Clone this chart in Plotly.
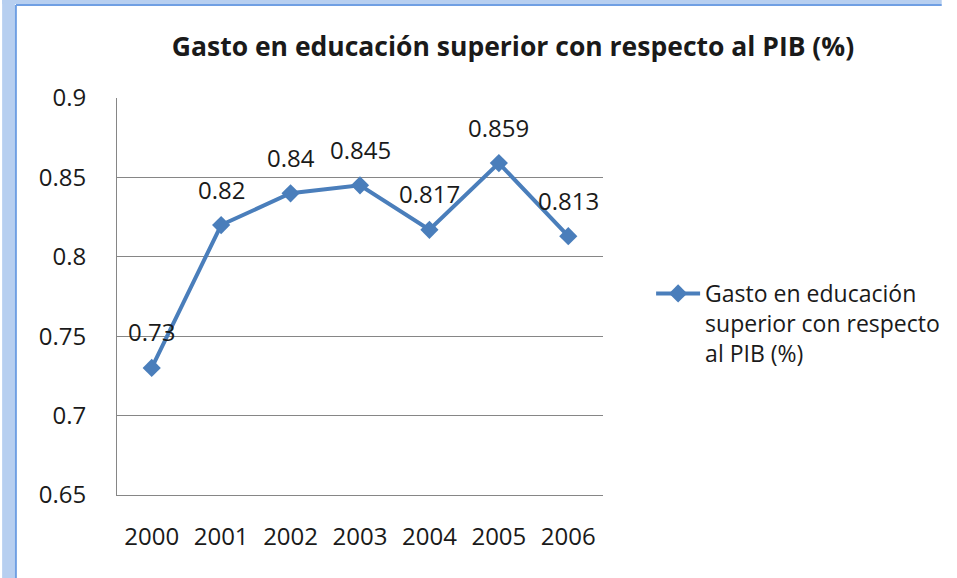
import plotly.graph_objects as go

years = ["2000", "2001", "2002", "2003", "2004", "2005", "2006"]
values = [0.73, 0.82, 0.84, 0.845, 0.817, 0.859, 0.813]
value_labels = ["0.73", "0.82", "0.84", "0.845", "0.817", "0.859", "0.813"]
y_ticks = [0.65, 0.7, 0.75, 0.8, 0.85, 0.9]
y_tick_labels = ["0.65", "0.7", "0.75", "0.8", "0.85", "0.9"]
series_name = "Gasto en educación<br>superior con respecto<br>al PIB (%)"
title_text = "Gasto en educación superior con respecto al PIB (%)"

FONT = "Open Sans"
TXT = "#1a1a1a"
LINE_COLOR = "#4A7EBB"

fig = go.Figure()
fig.add_trace(go.Scatter(
    x=years, y=values, mode="lines+markers", name=series_name,
    line=dict(color=LINE_COLOR, width=4),
    marker=dict(symbol="diamond", size=14, color=LINE_COLOR),
))

for i, (y, t) in enumerate(zip(values, value_labels)):
    fig.add_annotation(x=i, y=y, text=t, showarrow=False, yshift=36,
                       yanchor="middle",
                       font=dict(family=FONT, size=24, color=TXT))

W, H = 957, 578
L, R, T, B = 117, 612, 98, 495
pw, ph = R - L, B - T

def px(x):
    return (x - L) / pw

def py(y):
    return (B - y) / ph

# Excel-like frame border (left and top)
fig.add_shape(type="rect", xref="paper", yref="paper",
              x0=px(0), x1=px(13), y0=py(H), y1=py(0),
              fillcolor="#B7CFF0", line=dict(width=0), layer="below")
fig.add_shape(type="rect", xref="paper", yref="paper",
              x0=px(0), x1=px(W), y0=py(4), y1=py(0),
              fillcolor="#B7CFF0", line=dict(width=0), layer="below")
fig.add_shape(type="line", xref="paper", yref="paper",
              x0=px(14), x1=px(14), y0=py(H), y1=py(5),
              line=dict(color="#6F9FE3", width=2))
fig.add_shape(type="line", xref="paper", yref="paper",
              x0=px(14), x1=px(W), y0=py(5), y1=py(5),
              line=dict(color="#6F9FE3", width=2))

fig.update_layout(
    width=W, height=H,
    margin=dict(l=L, r=W - R, t=T, b=H - B),
    paper_bgcolor="white", plot_bgcolor="white",
    font=dict(family=FONT, size=24, color=TXT),
    title=dict(text="<b>" + title_text + "</b>", x=513 / W, xanchor="center",
               y=1 - 47 / H, yanchor="middle",
               font=dict(family=FONT, size=26.5, color=TXT)),
    showlegend=True,
    legend=dict(x=px(661), xanchor="left", y=py(272), yanchor="top",
                valign="top", itemwidth=44,
                font=dict(family=FONT, size=23, color=TXT),
                bgcolor="rgba(0,0,0,0)", tracegroupgap=0),
    xaxis=dict(type="category", range=[-0.5, 6.5], showgrid=False,
               showline=True, linecolor="#868686", linewidth=1,
               ticks="", tickfont=dict(size=24), ticklabelstandoff=20,
               fixedrange=True),
    yaxis=dict(range=[0.65, 0.9], tickvals=y_ticks, ticktext=y_tick_labels,
               showgrid=True, gridcolor="#868686", gridwidth=1,
               showline=True, linecolor="#868686", linewidth=1,
               ticks="", tickfont=dict(size=24), ticklabelstandoff=25,
               zeroline=False, fixedrange=True),
)

fig.write_html("out.html", config={"displayModeBar": False},
               post_script="document.body.style.margin='0px';")
